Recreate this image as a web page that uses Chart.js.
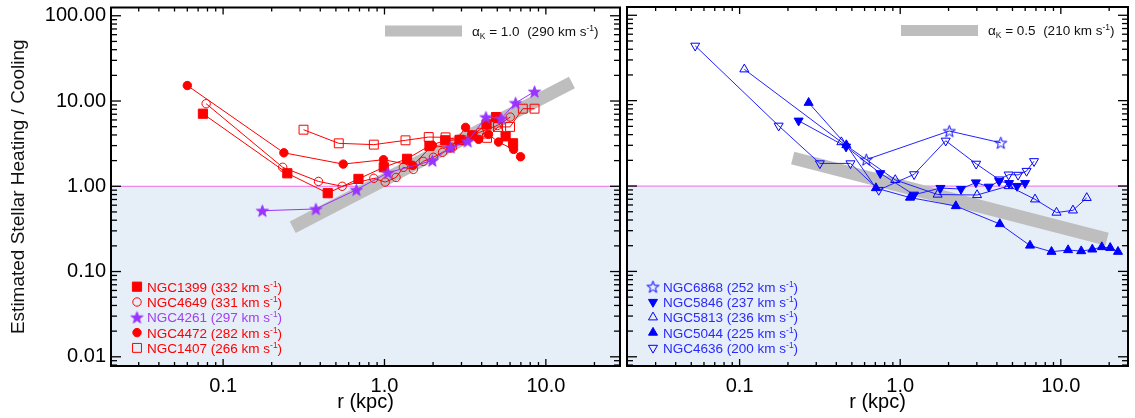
<!DOCTYPE html>
<html><head><meta charset="utf-8">
<script src="https://cdn.jsdelivr.net/npm/chart.js@4/dist/chart.umd.min.js"></script>
<style>
html,body{margin:0;padding:0;background:#fff;}
#wrap{position:relative;width:1135px;height:418px;overflow:hidden;}
canvas{position:absolute;left:0;top:0;}
</style></head><body>
<div id="wrap"><canvas id="c1" width="1135" height="418"></canvas><canvas id="c2" width="1135" height="418"></canvas></div>
<script>
const FONT = "'Liberation Sans', Arial, Helvetica, sans-serif";

// ---------- Left panel data (alpha_K = 1.0) ----------
const ngc1399_r     = [0.075, 0.25, 0.445, 0.69, 0.99, 1.38, 1.90, 2.38, 2.92, 3.51, 4.29, 4.91, 5.63, 6.26];
const ngc1399_ratio = [7.1, 1.42, 0.83, 1.22, 1.67, 2.10, 2.98, 3.46, 3.50, 3.96, 5.32, 6.48, 3.85, 3.19];
const ngc4649_r     = [0.0785, 0.234, 0.39, 0.547, 0.859, 1.01, 1.18, 1.31, 1.51, 1.74, 2.01, 2.29, 2.64, 3.04, 3.46, 3.88, 5.02, 6.02];
const ngc4649_ratio = [9.3, 1.67, 1.14, 1.00, 1.24, 1.12, 1.27, 1.67, 1.58, 1.96, 2.19, 2.50, 2.86, 3.46, 3.96, 4.29, 5.18, 6.48];
const ngc4261_r     = [0.175, 0.376, 0.67, 1.05, 1.98, 2.57, 3.28, 4.25, 5.29, 6.49, 8.51];
const ngc4261_ratio = [0.517, 0.542, 0.91, 1.44, 2.00, 2.86, 3.37, 6.48, 6.25, 9.5, 12.9];
const ngc4472_r     = [0.060, 0.238, 0.555, 0.986, 1.50, 1.98, 2.57, 3.18, 3.83, 4.41, 5.09, 6.31, 6.97];
const ngc4472_ratio = [15.2, 2.47, 1.82, 2.05, 1.76, 3.02, 2.81, 4.91, 3.55, 4.06, 3.30, 2.71, 2.22];
const ngc1407_r     = [0.315, 0.521, 0.859, 1.35, 1.88, 2.39, 3.00, 4.32, 5.05, 6.00, 7.20, 8.51];
const ngc1407_ratio = [4.61, 3.19, 3.08, 3.46, 3.78, 3.75, 3.46, 3.70, 4.97, 4.97, 8.13, 8.13];
const band1_r       = [0.27, 14.5];
const band1_ratio   = [0.33, 16.5];

// ---------- Right panel data (alpha_K = 0.5) ----------
const ngc6868_r     = [0.615, 2.02, 4.23];
const ngc6868_ratio = [2.04, 4.41, 3.21];
const ngc5846_r     = [0.233, 0.460, 0.751, 1.22, 1.78, 2.39, 2.96, 3.56, 4.13, 4.76, 5.34, 5.99];
const ngc5846_ratio = [5.82, 2.89, 1.41, 0.79, 0.947, 0.922, 1.10, 0.98, 1.14, 1.08, 1.00, 1.08];
const ngc5813_r     = [0.107, 0.430, 0.931, 1.71, 3.01, 4.73, 6.91, 9.40, 11.9, 14.5];
const ngc5813_ratio = [23.3, 3.27, 1.18, 0.795, 0.785, 1.00, 0.699, 0.489, 0.519, 0.727];
const ngc5044_r     = [0.269, 0.462, 0.706, 1.15, 2.22, 4.17, 6.43, 8.75, 11.1, 13.4, 15.7, 18.0, 20.3, 22.7];
const ngc5044_ratio = [9.45, 3.02, 0.947, 0.733, 0.583, 0.359, 0.201, 0.170, 0.178, 0.173, 0.181, 0.193, 0.189, 0.170];
const ngc4636_r     = [0.0529, 0.175, 0.316, 0.490, 0.735, 1.22, 1.92, 2.97, 4.13, 4.73, 5.42, 6.12, 6.81];
const ngc4636_ratio = [43.9, 5.08, 1.84, 1.84, 0.898, 1.37, 3.39, 1.82, 1.19, 1.36, 1.35, 1.50, 1.95];
const band2_r       = [0.214, 19.4];
const band2_ratio   = [2.13, 0.239];

// ---------- Ticks / labels ----------
const yTickValues = [0.01, 0.1, 1, 10, 100];
const yTickLabels = ['0.01', '0.10', '1.00', '10.00', '100.00'];
const xTickValues = [0.1, 1, 10];
const xTickLabels = ['0.1', '1.0', '10.0'];
const yTitle = 'Estimated Stellar Heating / Cooling';
const xTitle = 'r (kpc)';
const leftNames  = ['NGC1399', 'NGC4649', 'NGC4261', 'NGC4472', 'NGC1407'];
const leftSigma  = ['332', '331', '297', '282', '266'];
const rightNames = ['NGC6868', 'NGC5846', 'NGC5813', 'NGC5044', 'NGC4636'];
const rightSigma = ['252', '237', '236', '225', '200'];
const leftAlpha  = {val: '1.0', sigma: '290'};
const rightAlpha = {val: '0.5', sigma: '210'};

// ---------- Styles ----------
const RED = '#ff0000', PURPLE = '#9933ff', BLUE = '#0000ff', BLUEL = '#2222ff';
const CLEAR = 'rgba(0,0,0,0)';

function makeStar(fill, stroke) {
  const size = 15, c = document.createElement('canvas');
  c.width = c.height = size;
  const g = c.getContext('2d');
  const cx = size / 2, cy = size / 2 + 0.6, R = 6.3, r = R * 0.4;
  g.beginPath();
  for (let i = 0; i < 10; i++) {
    const ang = -Math.PI / 2 + i * Math.PI / 5, rad = (i % 2) ? r : R;
    g.lineTo(cx + rad * Math.cos(ang), cy + rad * Math.sin(ang));
  }
  g.closePath();
  if (fill) { g.fillStyle = fill; g.fill(); }
  if (stroke) { g.strokeStyle = stroke; g.lineWidth = 1; g.stroke(); }
  return c;
}
const starFilled = makeStar(PURPLE, PURPLE);
const starOpen = makeStar(null, BLUE);

const MARK = {
  sqF:  {pointStyle: 'rect', pointRadius: 6.5, fill: true},
  sqO:  {pointStyle: 'rect', pointRadius: 6.3, fill: false},
  ciF:  {pointStyle: 'circle', pointRadius: 4.2, fill: true},
  ciO:  {pointStyle: 'circle', pointRadius: 4.2, fill: false},
  stF:  {pointStyle: starFilled, pointRadius: 6, fill: true},
  stO:  {pointStyle: starOpen, pointRadius: 6, fill: false},
  tuF:  {pointStyle: 'triangle', pointRadius: 5.2, rot: 0, fill: true},
  tuO:  {pointStyle: 'triangle', pointRadius: 5.2, rot: 0, fill: false},
  tdF:  {pointStyle: 'triangle', pointRadius: 5.2, rot: 180, fill: true},
  tdO:  {pointStyle: 'triangle', pointRadius: 5.2, rot: 180, fill: false}
};

const pts = (r, v) => r.map((x, i) => ({x: x, y: v[i]}));

function series(r, v, mk, color, lineColor) {
  const m = MARK[mk];
  return {
    data: pts(r, v), borderColor: lineColor || color, borderWidth: 1, tension: 0,
    pointStyle: m.pointStyle, pointRadius: m.pointRadius, pointRotation: m.rot || 0,
    pointBackgroundColor: m.fill ? color : CLEAR, pointBorderColor: color, pointBorderWidth: 1,
    order: 1, clip: false
  };
}
function band(r, v) {
  return {data: pts(r, v), borderColor: '#bebebe', borderWidth: 13, borderCapStyle: 'butt',
    pointRadius: 0, tension: 0, order: 10};
}

function drawMarker(ctx, mk, x, y, color) {
  const m = MARK[mk];
  ctx.save();
  ctx.fillStyle = color; ctx.strokeStyle = color; ctx.lineWidth = 1;
  if (typeof m.pointStyle !== 'string') {
    ctx.drawImage(m.pointStyle, x - m.pointStyle.width / 2, y - m.pointStyle.height / 2);
  } else {
    ctx.beginPath();
    if (m.pointStyle === 'rect') {
      const s = m.pointRadius * Math.SQRT1_2;
      ctx.rect(x - s, y - s, 2 * s, 2 * s);
    } else if (m.pointStyle === 'circle') {
      ctx.arc(x, y, m.pointRadius, 0, Math.PI * 2);
    } else {
      let rad = (m.rot || 0) * Math.PI / 180;
      for (let i = 0; i < 3; i++) {
        const px = x + Math.sin(rad) * m.pointRadius, py = y - Math.cos(rad) * m.pointRadius;
        if (i === 0) ctx.moveTo(px, py); else ctx.lineTo(px, py);
        rad += 2 * Math.PI / 3;
      }
    }
    ctx.closePath();
    if (m.fill) ctx.fill();
    ctx.stroke();
  }
  ctx.restore();
}

function richText(ctx, x, y, parts, color) {
  ctx.save();
  ctx.fillStyle = color; ctx.textBaseline = 'alphabetic'; ctx.textAlign = 'left';
  for (const p of parts) {
    ctx.font = p.s + 'px ' + FONT;
    ctx.fillText(p.t, x, y + (p.dy || 0));
    x += ctx.measureText(p.t).width;
  }
  ctx.restore();
}

const decor = {
  id: 'decor',
  beforeDatasetsDraw(chart, args, o) {
    const {ctx, chartArea: a, scales: {x, y}} = chart;
    ctx.save();
    ctx.fillStyle = '#ffffff';
    ctx.fillRect(a.left, a.top, a.width, a.height);
    const y1 = y.getPixelForValue(1);
    ctx.fillStyle = '#e6eef8';
    ctx.fillRect(a.left, y1, a.width, a.bottom - y1);
    ctx.strokeStyle = '#ee88ee'; ctx.lineWidth = 1.2;
    ctx.beginPath(); ctx.moveTo(a.left, y1); ctx.lineTo(a.right, y1); ctx.stroke();
    ctx.restore();
  },
  afterDatasetsDraw(chart, args, o) {
    const {ctx, chartArea: a, scales: {x, y}} = chart;
    ctx.save();
    ctx.strokeStyle = '#000'; ctx.lineWidth = 1.3;
    const seg = (x0, y0, x1, y1) => { ctx.beginPath(); ctx.moveTo(x0, y0); ctx.lineTo(x1, y1); ctx.stroke(); };
    for (let e = -3; e <= 2; e++) for (let k = 1; k <= 9; k++) {
      const v = k * Math.pow(10, e);
      if (v < y.min || v > y.max) continue;
      const py = y.getPixelForValue(v), len = k === 1 ? 10 : 6;
      seg(a.left, py, a.left + len, py); seg(a.right, py, a.right - len, py);
    }
    for (let e = -2; e <= 1; e++) for (let k = 1; k <= 9; k++) {
      const v = k * Math.pow(10, e);
      if (v < x.min || v > x.max) continue;
      const px = x.getPixelForValue(v), len = k === 1 ? 7 : 4;
      seg(px, a.bottom, px, a.bottom - len); seg(px, a.top, px, a.top + len);
    }
    ctx.lineWidth = 2;
    ctx.strokeRect(a.left, a.top, a.width, a.height);
    // alpha_K legend key
    ctx.fillStyle = '#bebebe';
    ctx.fillRect(a.left + 274, a.top + 18, 77, 11);
    const al = o.alpha;
    richText(ctx, a.left + 361, a.top + 28, [
      {t: '\u03B1', s: 13.5}, {t: 'K', s: 8.5, dy: 3}, {t: ' = ' + al.val + '  (' + al.sigma + ' km s', s: 13.5},
      {t: '-1', s: 8.5, dy: -5}, {t: ')', s: 13.5}], '#111');
    // series legend
    const rows = o.rows;
    rows.forEach((r, i) => {
      const base = a.bottom - 74.3 + i * 15.3;
      drawMarker(ctx, r.mk, a.left + 26, base - 5, r.color);
      richText(ctx, a.left + 36, base, [
        {t: r.name + ' (' + r.sigma + ' km s', s: 13.5}, {t: '-1', s: 8.5, dy: -5}, {t: ')', s: 13.5}], r.text);
    });
    ctx.restore();
  }
};

function makeChart(id, isLeft, datasets, pluginOpts) {
  return new Chart(document.getElementById(id), {
    type: 'line',
    data: {datasets: datasets},
    plugins: [decor],
    options: {
      responsive: false, animation: false, events: [],
      layout: {padding: isLeft ? {left: 0, top: 7, right: 515, bottom: 0} : {left: 627, top: 7, right: 6, bottom: 0}},
      plugins: {legend: {display: false}, tooltip: {enabled: false}, decor: pluginOpts},
      scales: {
        x: {
          type: 'logarithmic', position: 'bottom',
          min: isLeft ? 0.0202 : 0.0199, max: isLeft ? 28.8 : 26.2,
          afterBuildTicks: s => { s.ticks = xTickValues.map(v => ({value: v})); },
          ticks: {autoSkip: false, maxRotation: 0, minRotation: 0, padding: 8, color: '#000',
            font: {family: FONT, size: 20}, callback: (v, i) => xTickLabels[i]},
          grid: {display: false, drawTicks: false}, border: {display: false},
          title: {display: true, text: xTitle, color: '#000', font: {family: FONT, size: 20}, padding: {top: 0, bottom: 4}},
          afterFit: s => { s.height = 52; s.paddingLeft = 0; s.paddingRight = 0; }
        },
        y: {
          type: 'logarithmic', position: 'left', display: isLeft,
          min: 0.0078, max: 125,
          afterBuildTicks: s => { s.ticks = yTickValues.map(v => ({value: v})); },
          ticks: {autoSkip: false, padding: 5, color: '#000', font: {family: FONT, size: 20},
            callback: (v, i) => yTickLabels[i]},
          grid: {display: false, drawTicks: false}, border: {display: false},
          title: {display: true, text: yTitle, color: '#111', font: {family: FONT, size: 19}, padding: {top: 7, bottom: 0}},
          afterFit: s => { s.width = isLeft ? 111 : 0; s.paddingTop = 0; s.paddingBottom = 0; }
        }
      }
    }
  });
}

makeChart('c1', true, [
  series(ngc4261_r, ngc4261_ratio, 'stF', PURPLE),
  series(ngc1399_r, ngc1399_ratio, 'sqF', RED),
  series(ngc4649_r, ngc4649_ratio, 'ciO', RED),
  series(ngc4472_r, ngc4472_ratio, 'ciF', RED),
  series(ngc1407_r, ngc1407_ratio, 'sqO', RED),
  band(band1_r, band1_ratio)
], {
  alpha: leftAlpha,
  rows: [
    {name: leftNames[0], sigma: leftSigma[0], mk: 'sqF', color: RED, text: RED},
    {name: leftNames[1], sigma: leftSigma[1], mk: 'ciO', color: RED, text: RED},
    {name: leftNames[2], sigma: leftSigma[2], mk: 'stF', color: PURPLE, text: '#a040f0'},
    {name: leftNames[3], sigma: leftSigma[3], mk: 'ciF', color: RED, text: RED},
    {name: leftNames[4], sigma: leftSigma[4], mk: 'sqO', color: RED, text: RED}
  ]
});

makeChart('c2', false, [
  series(ngc6868_r, ngc6868_ratio, 'stO', BLUE, BLUEL),
  series(ngc5846_r, ngc5846_ratio, 'tdF', BLUE, BLUEL),
  series(ngc5813_r, ngc5813_ratio, 'tuO', BLUE, BLUEL),
  series(ngc5044_r, ngc5044_ratio, 'tuF', BLUE, BLUEL),
  series(ngc4636_r, ngc4636_ratio, 'tdO', BLUE, BLUEL),
  band(band2_r, band2_ratio)
], {
  alpha: rightAlpha,
  rows: [
    {name: rightNames[0], sigma: rightSigma[0], mk: 'stO', color: BLUE, text: '#2a2aff'},
    {name: rightNames[1], sigma: rightSigma[1], mk: 'tdF', color: BLUE, text: '#2a2aff'},
    {name: rightNames[2], sigma: rightSigma[2], mk: 'tuO', color: BLUE, text: '#2a2aff'},
    {name: rightNames[3], sigma: rightSigma[3], mk: 'tuF', color: BLUE, text: '#2a2aff'},
    {name: rightNames[4], sigma: rightSigma[4], mk: 'tdO', color: BLUE, text: '#2a2aff'}
  ]
});
</script>
</body></html>
